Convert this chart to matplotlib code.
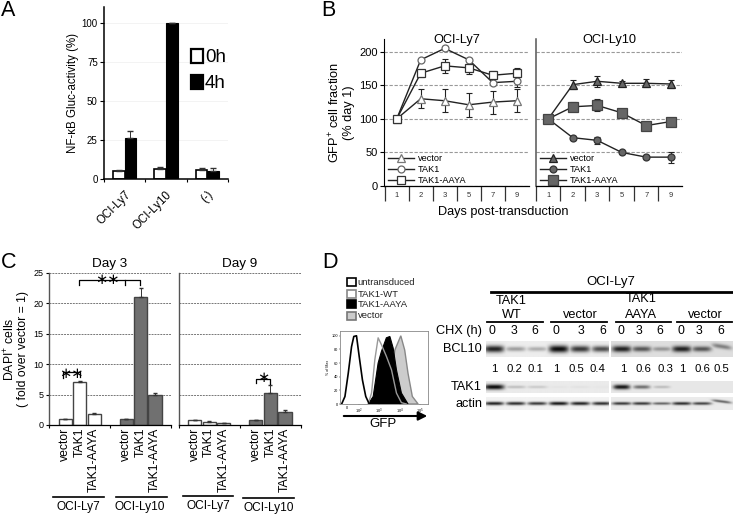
import numpy as np
import matplotlib
matplotlib.use("Agg")
import matplotlib.pyplot as plt
from matplotlib.patches import Rectangle

plt.rcParams['font.family'] = ['Liberation Sans', 'DejaVu Sans']
plt.rcParams['mathtext.fontset'] = 'custom'
plt.rcParams['mathtext.rm'] = 'Liberation Sans'

W, H = 733, 514

# panel A
a_groups = ["OCI-Ly7", "OCI-Ly10", "(-)"]
a_0h = [5, 6.5, 5.5]
a_0h_err = [1, 1, 1.5]
a_4h = [26.5, 100, 5]
a_4h_err = [4, 0, 2]

# panel B
days = ["1", "2", "3", "5", "7", "9"]
ly7_vector = [100, 130, 127, 121, 125, 127]
ly7_vector_err = [0, 14, 17, 18, 17, 17]
ly7_tak1 = [100, 188, 205, 188, 154, 156]
ly7_tak1_err = [0, 1, 3, 3, 3, 8]
ly7_aaya = [100, 168, 179, 176, 165, 168]
ly7_aaya_err = [0, 5, 10, 9, 6, 8]
ly10_vector = [100, 151, 156, 153, 153, 152]
ly10_vector_err = [0, 7, 8, 4, 6, 6]
ly10_tak1 = [100, 72, 68, 50, 43, 43]
ly10_tak1_err = [0, 3, 5, 2, 3, 8]
ly10_aaya = [100, 118, 120, 109, 90, 96]
ly10_aaya_err = [0, 7, 9, 4, 2, 2]

# panel C
c_labels = ["vector", "TAK1", "TAK1-AAYA"]
day3_ly7 = [1, 7, 1.8]
day3_ly7_err = [0, 0.3, 0.1]
day3_ly10 = [1, 21.1, 4.9]
day3_ly10_err = [0, 1.5, 0.4]
day9_ly7 = [0.9, 0.5, 0.3]
day9_ly7_err = [0, 0.1, 0.05]
day9_ly10 = [0.9, 5.3, 2.2]
day9_ly10_err = [0, 1.2, 0.3]

# panel D, histogram (log10 GFP, % of max)
untr_x = [1.18, 1.34, 1.5, 1.66, 1.77, 1.9, 2.03, 2.19, 2.35, 2.52]
untr_y = [0, 11, 45, 84, 99, 100, 70, 35, 11, 0]
wt_x = [2.47, 2.63, 2.79, 2.95, 3.11, 3.35, 3.6, 3.84, 4.08, 4.32]
wt_y = [0, 16, 65, 97, 87, 70, 50, 16, 2, 0]
aaya_x = [2.47, 2.71, 2.95, 3.11, 3.35, 3.52, 3.68, 3.84, 4.08, 4.4]
aaya_y = [0, 11, 60, 77, 97, 99, 82, 50, 16, 0]
vec_x = [3.35, 3.52, 3.76, 4.05, 4.24, 4.4, 4.61, 4.89]
vec_y = [0, 25, 79, 100, 79, 45, 11, 0]

# panel D, blot
lane_times = ["0", "3", "6"] * 4
bcl10_ratio = ["1", "0.2", "0.1", "1", "0.5", "0.4", "1", "0.6", "0.3", "1", "0.6", "0.5"]
bcl10_left = [0.9, 0.35, 0.28, 1.0, 0.8, 0.7]
bcl10_right = [0.9, 0.65, 0.35, 0.9, 0.65, 0.45]
tak1_left = [1.0, 0.2, 0.15, 0.03, 0.04, 0.02]
tak1_right = [0.95, 0.55, 0.2, 0, 0, 0]
actin_left = [0.9, 0.85, 0.8, 0.95, 0.9, 0.85]
actin_right = [0.8, 0.8, 0.6, 0.85, 0.75, 0.6]


def px_axes(x0, y0, x1, y1):
    return fig.add_axes([x0 / W, 1 - y1 / H, (x1 - x0) / W, (y1 - y0) / H])


fig = plt.figure(figsize=(W / 100, H / 100), dpi=100)
over = fig.add_axes([0, 0, 1, 1], zorder=10)
over.set_xlim(0, W)
over.set_ylim(H, 0)
over.axis("off")

for s, x, y in [("A", 1, 16), ("B", 321, 16), ("C", 1, 268), ("D", 322, 268)]:
    over.text(x, y, s, fontsize=15.5, va="baseline")

# ---- A
ax = px_axes(104, 7, 228, 179)
xa = np.arange(3)
ax.bar(xa - 0.14, a_0h, 0.28, yerr=[[0] * 3, a_0h_err], color="white", edgecolor="black", lw=1.2,
       error_kw=dict(ecolor="#333333", lw=0.7, capsize=2))
ax.bar(xa + 0.14, a_4h, 0.28, yerr=[[0] * 3, a_4h_err], color="black", edgecolor="black", lw=0.8,
       error_kw=dict(ecolor="#333333", lw=0.7, capsize=2))
ax.set_xlim(-0.5, 2.5)
ax.set_ylim(0, 110)
ax.set_yticks([0, 25, 50, 75, 100])
ax.set_xticks([-0.5, 0.5, 1.5, 2.5])
ax.set_xticklabels([])
ax.set_xticks(xa, minor=True)
ax.set_xticklabels(a_groups, minor=True, rotation=45, ha="right", rotation_mode="anchor", fontsize=8.3)
ax.tick_params(axis="x", which="minor", length=0, pad=7)
ax.tick_params(axis="x", which="major", length=2.5, width=0.8)
ax.tick_params(axis="y", labelsize=7, length=3, width=0.8, pad=1.5)
ax.yaxis.grid(True, color="#eeeeee", lw=0.5)
ax.set_axisbelow(True)
ax.set_ylabel("NF-κB Gluc-activity (%)", fontsize=8.3, labelpad=2)
for sp in ["top", "right"]:
    ax.spines[sp].set_visible(False)
for sp in ["left", "bottom"]:
    ax.spines[sp].set_linewidth(1.1)
over.add_patch(Rectangle((191, 48.5), 11.5, 14, fc="white", ec="black", lw=1.6))
over.add_patch(Rectangle((191, 74.5), 11.5, 14, fc="black", ec="black", lw=1.6))
over.text(205, 61.5, "0h", fontsize=13.5, stretch="condensed")
over.text(205, 87.5, "4h", fontsize=13.5, stretch="condensed")

# ---- B
def line_panel(ax, series, xlim, mfc, title):
    xs = np.arange(6)
    for vals, errs, mk, ms, lab, color in series:
        ax.errorbar(xs, vals, yerr=errs, color="#222222", lw=0.8, capsize=2, capthick=0.8, ls="none", zorder=3)
        ax.plot(xs, vals, color="#222222", lw=1, marker=mk, ms=ms, mfc=mfc, mec=color, mew=0.9,
                label=lab, zorder=4)
    ax.set_xlim(*xlim)
    ax.set_ylim(0, 219)
    ax.set_yticks([0, 50, 100, 150, 200])
    ax.set_xticks(np.arange(6) - 0.5)
    ax.set_xticklabels([])
    ax.set_xticks(xs, minor=True)
    ax.set_xticklabels(days, minor=True, fontsize=5.5, color="#333333")
    ax.tick_params(axis="x", which="major", length=11, width=0.9, color="#333333")
    ax.tick_params(axis="x", which="minor", length=0, pad=4)
    ax.yaxis.grid(True, color="#999999", lw=0.8, ls=(0, (3, 1.5)))
    ax.set_axisbelow(True)
    for sp in ["top", "right"]:
        ax.spines[sp].set_visible(False)
    ax.spines["bottom"].set_linewidth(0.9)
    ax.set_title(title, fontsize=9.2, pad=0.5, y=0.97)
    ax.legend(loc="lower left", frameon=False, fontsize=6.6, labelspacing=0.2, handlelength=2.8,
              handletextpad=0.4, borderaxespad=0, bbox_to_anchor=(0.03, 0.008), borderpad=0)


ax = px_axes(384, 39, 529, 186)
line_panel(ax, [(ly7_vector, ly7_vector_err, "^", 5.5, "vector", "#777777"),
                (ly7_tak1, ly7_tak1_err, "o", 5, "TAK1", "#666666"),
                (ly7_aaya, ly7_aaya_err, "s", 6, "TAK1-AAYA", "#333333")],
           (-0.53, 5.51), "white", "OCI-Ly7")
ax.tick_params(axis="y", labelsize=8, length=3, width=0.8, pad=1.5)
ax.set_ylabel("GFP$^{+}$ cell fraction\n(% day 1)", fontsize=9.2, labelpad=3, linespacing=1.05)

ax = px_axes(536, 39, 682, 186)
line_panel(ax, [(ly10_vector, ly10_vector_err, "^", 5.5, "vector", "#222222"),
                (ly10_tak1, ly10_tak1_err, "o", 5, "TAK1", "#333333"),
                (ly10_aaya, ly10_aaya_err, "s", 6.5, "TAK1-AAYA", "#444444")],
           (-0.5, 5.46), "#666666", "OCI-Ly10")
ax.tick_params(axis="y", left=False, labelleft=False)
ax.spines["left"].set_color("#555555")
ax.spines["left"].set_linewidth(1.1)
over.text(503.5, 212, "Days post-transduction", fontsize=9.2, ha="center", va="center")

# ---- C
def bar_panel(ax, white, white_err, grey, grey_err, xlim, gap, title):
    p1 = np.arange(3)
    p2 = np.arange(3) + gap
    ax.bar(p1, white, 0.92, yerr=[[0] * 3, white_err], color="white", edgecolor="#444444", lw=1,
           error_kw=dict(ecolor="#333333", lw=0.7, capsize=1.5))
    ax.bar(p2, grey, 0.92, yerr=[[0] * 3, grey_err], color="#707070", edgecolor="#444444", lw=1,
           error_kw=dict(ecolor="#333333", lw=0.7, capsize=1.5))
    ax.set_xlim(*xlim)
    ax.set_ylim(0, 25)
    ax.set_yticks([0, 5, 10, 15, 20, 25])
    ax.yaxis.grid(True, color="#777777", lw=0.7, ls=(0, (2, 1)))
    ax.set_axisbelow(True)
    ax.set_xticks([xlim[0], sum(xlim) / 2, xlim[1]])
    ax.set_xticklabels([])
    ax.set_xticks(np.r_[p1, p2], minor=True)
    ax.set_xticklabels(c_labels * 2, minor=True, rotation=90, fontsize=8.8, ha="center", va="top")
    ax.tick_params(axis="x", which="minor", length=0, pad=2)
    ax.tick_params(axis="x", which="major", length=2, width=0.8)
    for sp in ["top", "right"]:
        ax.spines[sp].set_visible(False)
    ax.spines["left"].set_color("#555555")
    ax.spines["left"].set_linewidth(1)
    ax.spines["bottom"].set_linewidth(0.9)
    ax.set_title(title, fontsize=9.7, pad=4)


ax = px_axes(49, 273, 171, 425)
bar_panel(ax, day3_ly7, day3_ly7_err, day3_ly10, day3_ly10_err, (-1.14, 7.35), 4.23, "Day 3")
ax.tick_params(axis="y", labelsize=6.5, length=2.5, width=0.8, pad=1.5)
ax.set_ylabel("DAPI$^{+}$ cells\n( fold over vector = 1)", fontsize=8.8, labelpad=3, linespacing=1.0)

ax = px_axes(179, 273, 301, 425)
bar_panel(ax, day9_ly7, day9_ly7_err, day9_ly10, day9_ly10_err, (-1.08, 7.31), 4.2, "Day 9")
ax.tick_params(axis="y", left=False, labelleft=False)

# brackets and group lines over panel C
br = dict(color="black", lw=0.9)
over.plot([63, 63, 80, 80], [378, 372, 372, 377], **br)
over.plot([78.5, 78.5, 140, 140], [285, 279.5, 279.5, 285], **br)
over.plot([125, 125], [279.5, 285], **br)
over.plot([256, 256, 270, 270], [383, 379, 379, 384], **br)
for x, y, s in [(71, 373, "∗∗"), (107, 280, "∗∗"), (263, 378, "∗")]:
    over.text(x, y, s, fontsize=10.5, ha="center", va="center", family="DejaVu Sans")
for x0, x1, y, xt, yt, s in [(53, 104, 497, 78, 507, "OCI-Ly7"), (116, 167, 497, 140, 507, "OCI-Ly10"),
                             (183, 233, 496, 208, 506, "OCI-Ly7"), (243, 294, 498, 269, 507.5, "OCI-Ly10")]:
    over.plot([x0, x1], [y, y], color="black", lw=1.2)
    over.text(xt, yt, s, fontsize=8.6, ha="center", va="center")

# ---- D histogram
ax = px_axes(340, 331, 428, 404)
ax.fill(vec_x, vec_y, fc="#cccccc", ec="#888888", lw=1)
ax.fill(aaya_x, aaya_y, fc="black", ec="black", lw=0.8)
ax.plot(wt_x, wt_y, color="#999999", lw=1)
ax.plot(untr_x, untr_y, color="black", lw=1.2)
ax.set_xlim(1.1, 5.37)
ax.set_ylim(0, 107)
ax.set_xticks([1.45, 2, 3, 4, 5])
ax.set_xticklabels(["0", "$10^2$", "$10^3$", "$10^4$", "$10^5$"], fontsize=2.8)
ax.set_yticks([0, 20, 40, 60, 80, 100])
ax.set_yticklabels(["0", "20", "40", "60", "80", "100"], fontsize=2.8)
ax.set_ylabel("% of Max", fontsize=2.6, labelpad=1)
ax.tick_params(length=1, width=0.3, pad=0.6)
for sp in ax.spines.values():
    sp.set_color("#888888")
    sp.set_linewidth(0.6)

for y, fc, ec, s in [(278, "white", "black", "untransduced"), (290, "white", "#888888", "TAK1-WT"),
                     (300, "black", "black", "TAK1-AAYA"), (311.5, "#cccccc", "#777777", "vector")]:
    over.add_patch(Rectangle((347, y), 8.5, 8, fc=fc, ec=ec, lw=1.2))
    over.text(357.5, y + 4.2, s, fontsize=6.8, va="center", color="#222222")
over.annotate("", xy=(430, 416), xytext=(341, 416),
              arrowprops=dict(arrowstyle="-|>", color="black", lw=1.5, mutation_scale=13))
over.text(383, 424, "GFP", fontsize=9.5, ha="center", va="center")


# ---- D blot
def blot(x0, y0, x1, y1, signal, xlim, bg, sigma, half, tilt=None):
    a = px_axes(x0, y0, x1, y1)
    xx = np.linspace(xlim[0], xlim[1], 3 * int(x1 - x0))
    yy = np.linspace(-1, 1, 3 * int(y1 - y0))
    gx, gy = np.meshgrid(xx, yy)
    img = np.zeros_like(gx)
    for i, v in enumerate(signal):
        shift = 0 if tilt is None else tilt[i] * (gx - i)
        off = 0 if tilt is None else tilt[i] * -0.8
        band = np.exp(-((np.abs(gx - i) / half) ** 4)) * np.exp(-(((gy - off - shift) / (sigma * (0.5 + 0.6 * v))) ** 2))
        img = np.maximum(img, v * band)
    a.imshow(bg - (bg - 0.04) * np.clip(img, 0, 1), cmap="gray", vmin=0, vmax=1, aspect="auto",
             extent=(xlim[0], xlim[1], 1, -1), interpolation="bilinear")
    a.axis("off")


xl1 = (-0.375, 5.33)
xl2 = (-0.53, 5.55)
tilt_b = [0, 0, 0, 0, 0, 0.4]
blot(486, 341, 608, 357, bcl10_left, xl1, 0.93, 0.42, 0.46)
blot(611, 341, 733, 357, bcl10_right, xl2, 0.87, 0.38, 0.48, tilt_b)
blot(486, 381, 608, 393, tak1_left, xl1, 0.92, 0.4, 0.47)
blot(611, 381, 733, 393, tak1_right, xl2, 0.91, 0.38, 0.42)
blot(486, 397, 608, 410, actin_left, xl1, 0.95, 0.26, 0.45)
blot(611, 397, 733, 410, actin_right, xl2, 0.92, 0.24, 0.48, tilt_b)

lane_x = [67, 132, 195, 258, 332, 397, 453, 507, 570, 633, 687, 752]
ratio_x = [72, 132, 196, 258, 319, 382, 461, 520, 585, 637, 698, 755]
for zx, s in zip(lane_x, lane_times):
    over.text(470 + zx / 3, 331.5, s, fontsize=8.8, ha="center", va="center")
for zx, s in zip(ratio_x, bcl10_ratio):
    over.text(470 + zx / 3, 369.5, s, fontsize=8.2, ha="center", va="center")

over.plot([491, 732], [292, 292], color="black", lw=2)
for z0, z1 in [(52, 220), (243, 412), (437, 602), (622, 787)]:
    over.plot([470 + z0 / 3, 470 + z1 / 3], [322, 322], color="black", lw=1.3)
over.text(611, 282.5, "OCI-Ly7", fontsize=9.5, ha="center", va="center")
for x, y, s in [(511, 300.5, "TAK1"), (512, 315.5, "WT"), (580, 315.5, "vector"),
                (641, 299.5, "TAK1"), (641, 315.5, "AAYA"), (705, 315.5, "vector")]:
    over.text(x, y, s, fontsize=9.2, ha="center", va="center")
for x, y, s in [(482, 331, "CHX (h)"), (482, 349, "BCL10"), (482, 387, "TAK1"), (482, 404, "actin")]:
    over.text(x, y, s, fontsize=9.2, ha="right", va="center")

fig.savefig("out.png", dpi=100)
